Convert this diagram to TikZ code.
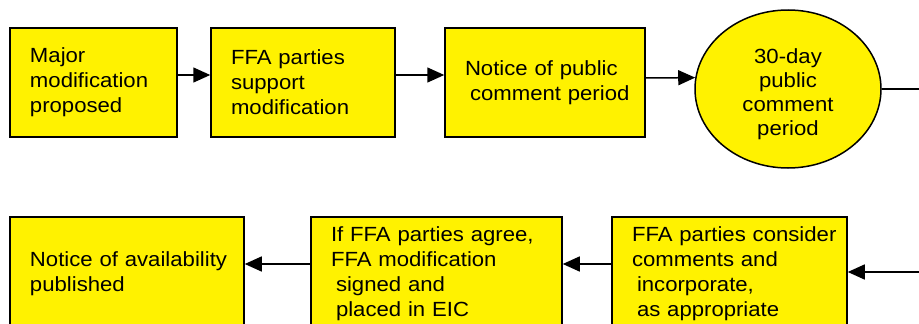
\documentclass[tikz,border=0pt]{standalone}
\usepackage{fontspec}
\setmainfont[FakeStretch=1.08]{Liberation Sans}
\usetikzlibrary{shapes.geometric,arrows.meta}
\hyphenpenalty=10000

\begin{document}
\begin{tikzpicture}[x=1pt,y=-1pt,line width=1.5pt]
  \tikzstyle{box}=[draw,fill=yellow,rectangle,inner xsep=20pt,inner ysep=0pt,align=left,font=\fontsize{20.5}{25}\selectfont]
  \tikzstyle{blob}=[draw,fill=yellow,ellipse,inner sep=0pt,align=center,font=\fontsize{20.5}{24}\selectfont]
  \tikzstyle{flow}=[-{Triangle[length=17pt,width=15pt]}]

  \useasboundingbox (0,0) rectangle (919,324);
  \clip (0,0) rectangle (919,324);

  % upper row
  \foreach \name/\x/\w/\text in {maj/93.5/127/{Major\\modification\\proposed},
      supp/303/144/{FFA parties\\support\\modification},
      notice/545/160/{\mbox{Notice of public}\\\mbox{\hspace*{5pt}comment period}}}
    \node[box,text width=\w pt,minimum height=109pt] (\name) at (\x,82.5) {\text};

  \node[blob,minimum width=186pt,minimum height=158pt] (day) at (788,89) {\rule{0pt}{25pt}30-day\\public\\comment\\period};

  % lower row, cut at the bottom edge
  \foreach \name/\x/\w/\text in {avail/127/194/{\mbox{Notice of availability}\\published},
      sign/436.5/211/{\mbox{If FFA parties agree,}\\FFA modification\\\hspace*{5pt}signed and\\\hspace*{5pt}placed in EIC},
      cons/729.5/195/{\mbox{FFA parties consider}\\comments and\\\hspace*{5pt}incorporate,\\\hspace*{5pt}as appropriate}}
    \node[box,text width=\w pt,minimum height=113pt] (\name) at (\x,273.5) {\text};

  \foreach \from/\to in {maj/supp,supp/notice}
    { \draw[flow] ([yshift=7.5pt]\from.east) -- ([yshift=7.5pt]\to.west); }
  \draw[flow] ([yshift=4.5pt]notice.east) -- (day.173);

  \coordinate (rt) at (919,89);
  \coordinate (rb) at (919,272);
  \draw (day.east) -- (rt);
  \draw[flow] (rb) -- ([yshift=1.5pt]cons.east);

  \foreach \from/\to in {cons/sign,sign/avail}
    { \draw[flow] ([yshift=9.5pt]\from.west) -- ([yshift=9.5pt]\to.east); }

\end{tikzpicture}
\end{document}
